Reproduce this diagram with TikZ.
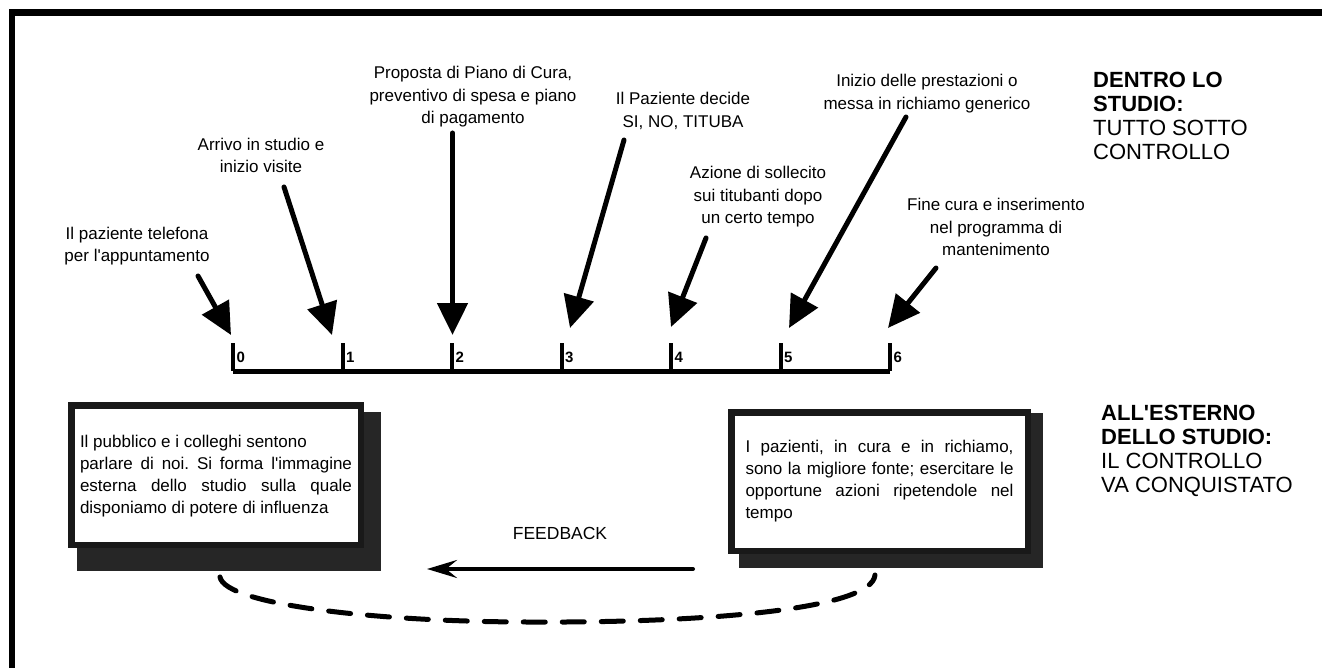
\documentclass[tikz,border=0pt]{standalone}
\usepackage{fontspec}
\setmainfont{Liberation Sans}
\usetikzlibrary{arrows.meta}
\newcommand{\apo}{\textquotesingle}
\begin{document}
\frenchspacing
\begin{tikzpicture}[x=1pt,y=-1pt,
  lbl/.style={font=\fontsize{17}{22.5}\selectfont, align=center, inner sep=0pt},
  bigarrow/.style={line width=5pt, line cap=round, -{Triangle[length=32pt,width=30pt]}},
  tickmark/.style={line width=4pt},
  ticklbl/.style={font=\fontsize{15}{15}\selectfont\bfseries, inner sep=0pt, anchor=west},
  titlebox/.style={font=\fontsize{22}{24}\selectfont, align=left, inner sep=0pt, anchor=north west},
  shadowbox/.style={fill=black!85, draw=none, inner sep=0pt},
  textbox/.style={draw=black!90, line width=6.5pt, fill=white, inner sep=0pt},
  dashcurve/.style={line width=5pt, line cap=round, dash pattern=on 22pt off 17pt},
  fbarrow/.style={line width=4pt, line cap=round, -{Stealth[length=30pt,width=18pt,inset=11pt]}}
]
\useasboundingbox (0,0) rectangle (1322,668);
\fill[white] (0,0) rectangle (1322,668);

% outer frame
\draw[line width=6.5pt] (12,668) -- (12,12.5) -- (1322,12.5);

% timeline
\coordinate (k0) at (233,343);
\coordinate (k1) at (342.5,343);
\coordinate (k2) at (452,343);
\coordinate (k3) at (561.5,343);
\coordinate (k4) at (671,343);
\coordinate (k5) at (780.5,343);
\coordinate (k6) at (890,343);
\coordinate (b0) at (233,371);
\coordinate (b6) at (890,371);
\draw[line width=5pt] (b0) -- (b6);
\foreach \i in {0,...,6}{
  \draw[tickmark] (k\i) -- (k\i |- b0);
  \node[ticklbl] (n\i) at ([xshift=3.5pt,yshift=-14pt]k\i) {\i};
}

% labels
\node[lbl] (t0) at (137,246) {Il paziente telefona\\per l\apo appuntamento};
\node[lbl] (t1) at (261,155.5) {Arrivo in studio e\\inizio visite};
\node[lbl] (t2) at (473,97) {Proposta di Piano di Cura,\\preventivo di spesa e piano\\di pagamento};
\node[lbl] (t3) at (683,111) {Il Paziente decide\\SI, NO, TITUBA};
\node[lbl] (t4) at (758,197) {Azione di sollecito\\sui titubanti dopo\\un certo tempo};
\node[lbl] (t5) at (927,93.5) {Inizio delle prestazioni o\\messa in richiamo generico};
\begin{scope}
  \clip (880,180) rectangle (1083,270);
  \node[lbl] (t6) at (996,227) {Fine cura e inserimento\\nel programma di\\mantenimento};
\end{scope}

% arrows
\coordinate (a0) at (198,276);  \coordinate (p0) at (231,335);
\coordinate (a1) at (284,187);  \coordinate (p1) at (332,335);
\coordinate (a2) at (452.5,133);\coordinate (p2) at (452.5,335);
\coordinate (a3) at (624,140);  \coordinate (p3) at (570,328);
\coordinate (a4) at (706,238);  \coordinate (p4) at (671,327);
\coordinate (a5) at (906,117);  \coordinate (p5) at (789,328);
\coordinate (a6) at (936,268);  \coordinate (p6) at (888,328);
\foreach \i in {0,...,6}{ \draw[bigarrow] (a\i) -- (p\i); }

% titles
\node[titlebox] (dentro) at (1093,72) {\textbf{DENTRO LO}\\\textbf{STUDIO:}\\TUTTO SOTTO\\CONTROLLO};
\node[titlebox] (esterno) at (1101,405) {\textbf{ALL\apo ESTERNO}\\\textbf{DELLO STUDIO:}\\IL CONTROLLO\\VA CONQUISTATO};

% boxes
\node[shadowbox, minimum width=304pt, minimum height=159pt] (lsh) at (229,491.5) {};
\node[textbox, minimum width=289.5pt, minimum height=139.5pt] (lbox) at (216,475)
  {\parbox{272pt}{\fontsize{17}{22}\selectfont\vspace*{3pt}Il pubblico e i colleghi sentono\newline
   parlare di noi. Si forma l\apo immagine\linebreak
   esterna dello studio sulla quale\linebreak
   disponiamo di potere di influenza}};
\node[shadowbox, minimum width=304pt, minimum height=155pt] (rsh) at (891,490.5) {};
\node[textbox, minimum width=296.5pt, minimum height=138.5pt] (rbox) at (879.5,481.5)
  {\parbox{268pt}{\fontsize{17}{22}\selectfont I pazienti, in cura e in richiamo,\linebreak
   sono la migliore fonte; esercitare le\linebreak
   opportune azioni ripetendole nel\linebreak
   tempo}};

% feedback
\node[lbl, font=\fontsize{17.5}{20}\selectfont] (fb) at (560,533) {FEEDBACK};
\coordinate (fbr) at (693,569);
\coordinate (fbl) at (427,569);
\draw[fbarrow] (fbr) -- (fbl);

% dashed return curve
\coordinate (cl) at (220,577);
\coordinate (cm) at (530,622);
\coordinate (cr) at (875,575);
\draw[dashcurve] (cl) .. controls (225,605) and (380,622) .. (cm)
                      .. controls (700,623) and (872,610) .. (cr);
\end{tikzpicture}
\end{document}
